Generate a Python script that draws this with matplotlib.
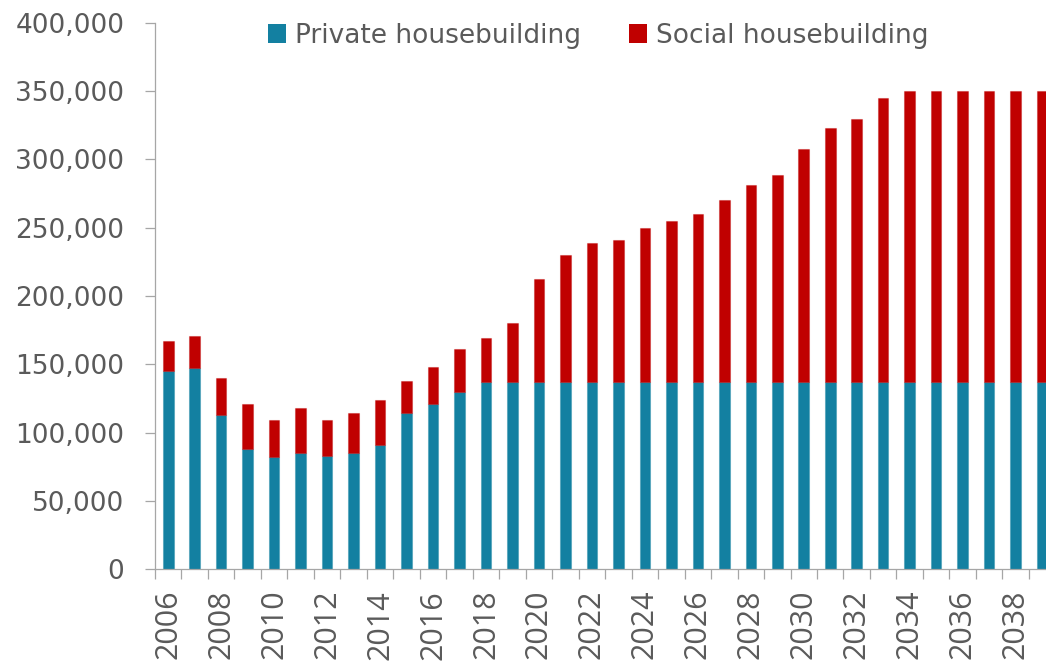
import matplotlib.pyplot as plt
import numpy as np
from matplotlib.patches import Patch
from matplotlib.ticker import FuncFormatter

# Housebuilding per year, private vs social
years = list(range(2006, 2040))
total = [167000, 171000, 140000, 121000, 109000, 118000, 109000, 114000,
         124000, 138000, 148000, 161000, 169000, 180000, 212500, 230000,
         239000, 241000, 249500, 255000, 260000, 270000, 281000, 289000,
         308000, 323000, 330000, 345000, 350000, 350000, 350000, 350000,
         350000, 350000]
private = [145000, 147500, 112500, 88000, 82000, 85000, 83000, 85000,
           91000, 114000, 121000, 130000] + [137000] * 22
social = [t - p for t, p in zip(total, private)]

BLUE = '#1380a1'
RED = '#c00000'
GREY_TEXT = '#5a5a5a'
GREY_AXIS = '#a6a6a6'

plt.rcParams['font.family'] = ['DejaVu Sans']

fig = plt.figure(figsize=(10.46, 6.61), dpi=100)
# plot area runs slightly past the right edge, so the last bar gets cut
ax = fig.add_axes([155 / 1046, 92 / 661, 34 * 26.48 / 1046, 546 / 661])

x = np.arange(len(years))
ax.bar(x, private, width=0.4, color=BLUE, edgecolor=(0.07, 0.5, 0.63, 0.35), linewidth=0.8)
ax.bar(x, social, width=0.4, bottom=private, color=RED, edgecolor=(0.75, 0, 0, 0.35), linewidth=0.8)

ax.set_xlim(-0.5, len(years) - 0.5)
ax.set_ylim(0, 400000)

# y axis
ax.set_yticks(np.arange(0, 400001, 50000))
ax.yaxis.set_major_formatter(FuncFormatter(lambda v, _: f'{int(v):,}'))
ax.tick_params(axis='y', length=7, width=0.9, color=GREY_AXIS, pad=15,
               labelsize=19, labelcolor=GREY_TEXT)

# x axis: ticks on the category boundaries, labels every other year
ax.set_xticks(np.arange(-0.5, len(years), 1.0))
ax.set_xticklabels([])
ax.tick_params(axis='x', which='major', length=7, width=0.9, color=GREY_AXIS)
even = [i for i, y in enumerate(years) if y % 2 == 0]
ax.set_xticks(even, minor=True)
ax.set_xticklabels([str(years[i]) for i in even], minor=True, rotation=90,
                   family='Open Sans')
ax.tick_params(axis='x', which='minor', length=0, pad=15,
               labelsize=22, labelcolor=GREY_TEXT)

for side in ['top', 'right']:
    ax.spines[side].set_visible(False)
for side in ['left', 'bottom']:
    ax.spines[side].set_color(GREY_AXIS)
    ax.spines[side].set_linewidth(0.9)

handles = [Patch(facecolor=BLUE, label='Private housebuilding'),
           Patch(facecolor=RED, label='Social housebuilding')]
fig.legend(handles=handles, loc='center', bbox_to_anchor=(0.572, 0.946),
           bbox_transform=fig.transFigure, ncol=2, frameon=False,
           fontsize=19, labelcolor=GREY_TEXT, handlelength=0.68,
           handleheight=0.68, handletextpad=0.35, columnspacing=1.8,
           borderpad=0)

fig.savefig('out.png', dpi=100)
